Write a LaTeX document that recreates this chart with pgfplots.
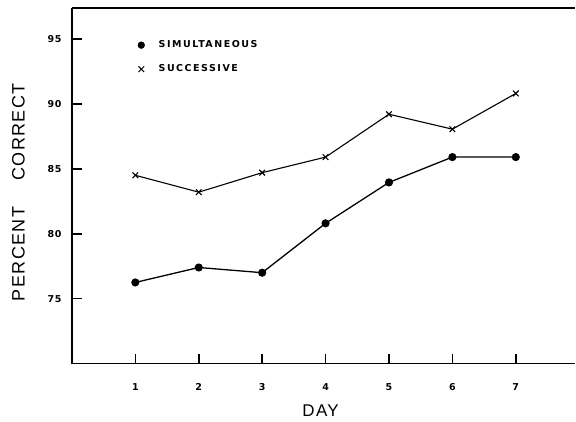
\documentclass[border=0pt]{standalone}
\usepackage{pgfplots}
\pgfplotsset{compat=1.18}
\usepackage{fontspec}
\setmainfont{Liberation Sans}
\newfontfamily\tickfont[LetterSpace=6]{DejaVu Sans}
\newfontfamily\legfont[LetterSpace=16]{DejaVu Sans}
\newfontfamily\labfont[LetterSpace=8]{Liberation Sans}
\begin{document}
\begin{tikzpicture}
\begin{axis}[name=ax, scale only axis, width=504pt, height=356pt,
  xmin=0, xmax=7.94, ymin=70, ymax=97.38,
  axis x line=box, axis y line*=left,
  axis line style={line width=1.2pt, -},
  xtick={1,2,3,4,5,6,7}, ytick={75,80,85,90,95},
  xtick pos=bottom, ytick pos=left,
  tick align=inside,
  major tick length=10pt,
  major tick style={line width=1.6pt, black},
  /pgf/number format/assume math mode=true,
  ticklabel style={font=\tickfont\bfseries\fontsize{9.5}{11}\selectfont},
  x tick label style={yshift=-16pt},
  y tick label style={xshift=-7pt},
  xlabel={\labfont\fontsize{17}{20}\selectfont DAY},
  ylabel={\labfont\fontsize{18}{20}\selectfont PERCENT\hspace{26pt}CORRECT},
  x label style={at={(axis description cs:0.494,-0.132)}, anchor=center},
  y label style={at={(axis description cs:-0.106,0.482)}, anchor=center},
  clip=false,
  legend style={draw=none, fill=none, at={(axis cs:0.99,95.17)}, anchor=north west,
    font=\legfont\bfseries\fontsize{9.5}{11}\selectfont, row sep=11.5pt, column sep=12pt},
  legend cell align=left,
]
\addlegendimage{only marks, mark=*, mark size=3.4pt, black}
\addlegendentry{SIMULTANEOUS}
\addlegendimage{only marks, mark=x, mark size=4pt, black, line width=1pt}
\addlegendentry{SUCCESSIVE}
\addplot[black, line width=1.3pt, mark=*, mark size=3.4pt, forget plot] coordinates {
(1,76.25)(2,77.4)(3,77.0)(4,80.8)(5,83.95)(6,85.9)(7,85.9)};
\addplot[black, line width=1.1pt, mark=x, mark size=4pt, forget plot] coordinates {
(1,84.5)(2,83.2)(3,84.7)(4,85.9)(5,89.2)(6,88.05)(7,90.8)};
\end{axis}
\path (ax.south west) ++(-72pt,-58pt) coordinate (bbA);
\path (ax.north east) ++(0pt,8pt) coordinate (bbB);
\path (bbA) rectangle (bbB);
\end{tikzpicture}
\end{document}
